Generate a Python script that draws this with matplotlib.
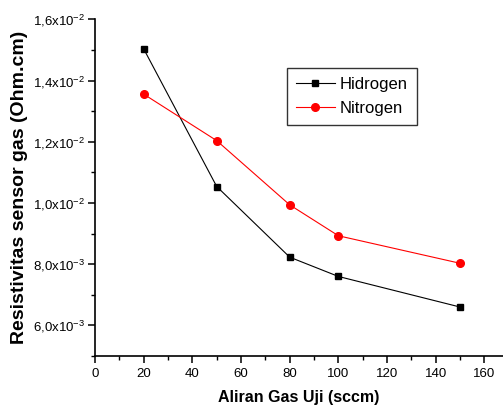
import matplotlib
matplotlib.use("Agg")
import matplotlib.pyplot as plt
from matplotlib.ticker import MultipleLocator, FixedLocator

plt.rcParams['font.family'] = ['Liberation Sans', 'DejaVu Sans']
plt.rcParams['mathtext.fontset'] = 'custom'
plt.rcParams['mathtext.rm'] = 'Liberation Sans'

x = [20, 50, 80, 100, 150]
hidrogen = [0.01504, 0.01054, 0.00823, 0.00760, 0.00660]
nitrogen = [0.01356, 0.01204, 0.00994, 0.00893, 0.00803]
y_ticks = [0.006, 0.008, 0.010, 0.012, 0.014, 0.016]
y_tick_labels = [r'6,0x10$^{\mathregular{-3}}$', r'8,0x10$^{\mathregular{-3}}$',
                 r'1,0x10$^{\mathregular{-2}}$', r'1,2x10$^{\mathregular{-2}}$',
                 r'1,4x10$^{\mathregular{-2}}$', r'1,6x10$^{\mathregular{-2}}$']
x_ticks = [0, 20, 40, 60, 80, 100, 120, 140, 160]

fig = plt.figure(figsize=(5.03, 4.16), dpi=100)
ax = fig.add_axes([95/503, 60/416, (503-95)/503, (356-19.5)/416])

ax.plot(x, hidrogen, color='black', lw=0.8, marker='s', ms=5, label='Hidrogen')
ax.plot(x, nitrogen, color='red', lw=0.8, marker='o', ms=5.5, label='Nitrogen')

ax.set_xlim(0, 167.6)
ax.set_ylim(0.005, 0.016)
ax.xaxis.set_major_locator(FixedLocator(x_ticks))
ax.xaxis.set_minor_locator(MultipleLocator(10))
ax.set_xticklabels([str(v) for v in x_ticks])
ax.yaxis.set_major_locator(FixedLocator(y_ticks))
ax.yaxis.set_minor_locator(MultipleLocator(0.001))
ax.set_yticklabels(y_tick_labels)

for s in ['top', 'right']:
    ax.spines[s].set_visible(False)
for s in ['left', 'bottom']:
    ax.spines[s].set_linewidth(1.2)
ax.tick_params(which='major', direction='out', length=5, width=1.1, labelsize=9.5)
ax.tick_params(axis='y', which='major', pad=2)
ax.tick_params(which='minor', direction='out', length=3, width=1.0)

ax.set_xlabel('Aliran Gas Uji (sccm)', fontsize=11.5, fontweight='bold', labelpad=7)
ax.set_ylabel('Resistivitas sensor gas (Ohm.cm)', fontsize=14, fontweight='bold', labelpad=4)

leg = ax.legend(loc='upper left', bbox_to_anchor=(192/408, (356-68)/336.5), fontsize=12,
                frameon=True, fancybox=False, edgecolor='black', handlelength=2.3,
                borderpad=0.55, labelspacing=0.5, handletextpad=0.3, borderaxespad=0)
leg.get_frame().set_linewidth(1.0)

fig.savefig('out.png', dpi=100)
